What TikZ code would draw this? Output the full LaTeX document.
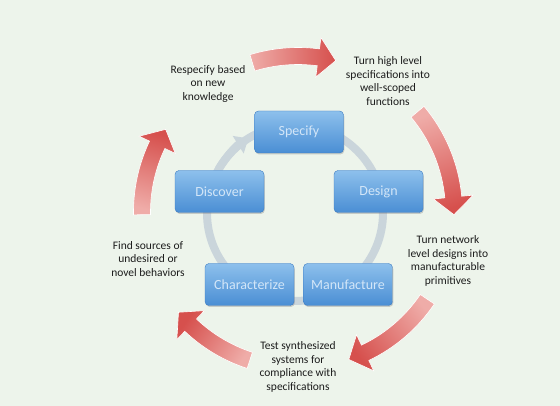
\documentclass[tikz,border=0pt]{standalone}
\usepackage{fontspec}
\setmainfont{Carlito}
\usetikzlibrary{arrows.meta,shadows}

\definecolor{bgmint}{HTML}{EDF4EB}
\definecolor{ringgray}{HTML}{CAD5DB}
\definecolor{tailpink}{HTML}{EFACA8}
\definecolor{headred}{HTML}{D6504D}
\definecolor{boxtop}{HTML}{8DC0EC}
\definecolor{boxbot}{HTML}{4A8ED4}
\definecolor{boxline}{HTML}{3D7CC2}
\definecolor{boxtext}{HTML}{D3E6F8}
\definecolor{labeltext}{HTML}{1C1C1C}

% one red block arrow on the outer circle: start angle, end angle, shading angle
\newcommand{\redarrow}[3]{%
  \pgfmathsetmacro{\headbase}{#2+6.5}
  \shadedraw[draw=white,line width=0.6pt,top color=tailpink,bottom color=headred,shading angle=#3]
    (#1:164.5) arc[start angle=#1,end angle=\headbase,radius=164.5]
    -- (\headbase:176) -- (#2:156) -- (\headbase:136)
    -- (\headbase:147.5) arc[start angle=\headbase,end angle=#1,radius=147.5] -- cycle;
}

\tikzset{
  stage/.style={rounded corners=4pt,minimum width=89pt,minimum height=42pt,
    draw=boxline,top color=boxtop,bottom color=boxbot,text=boxtext,
    font=\fontsize{14}{16}\selectfont,
    drop shadow={opacity=0.35,shadow xshift=0.8pt,shadow yshift=-1.5pt}},
  note/.style={align=center,text=labeltext,font=\fontsize{11.5}{13.7}\selectfont},
  ring/.style={draw=ringgray,line width=8pt}
}

\begin{document}
\begin{tikzpicture}[x=1pt,y=1pt]

\fill[bgmint] (0,0) rectangle (560,406); %background

\coordinate (hub) at (295,193);
\draw[ring] (hub) circle (88); %grey cycle
\draw[ring,-{Triangle[width=20pt,length=12pt]}] (hub) ++(150:88) arc[start angle=150,end angle=122,radius=88];

\begin{scope}[shift={(298,194)}] %red arrows
\redarrow{107}{76}{91}
\redarrow{40}{-1}{20}
\redarrow{-34}{-71}{-52}
\redarrow{-108}{-140}{-124}
\redarrow{181}{148}{165}
\end{scope}

\node[stage] (specify) at (299,274) {Specify};
\node[stage] (design) at (378.5,214.5) {Design};
\node[stage] (discover) at (219.5,214.5) {Discover};
\node[stage] (characterize) at (249.5,121.5) {Characterize};
\node[stage] (manufacture) at (348,121.5) {Manufacture};

\node[note] (respecify) at (208,322) {Respecify based\\on new\\knowledge};
\node[note] (highlevel) at (388,325) {Turn high level\\specifications into\\well-scoped\\functions};
\node[note] (network) at (448,145) {Turn network\\level designs into\\manufacturable\\primitives};
\node[note] (sources) at (148,147) {Find sources of\\undesired or\\novel behaviors};
\node[note] (synth) at (298,39) {Test synthesized\\systems for\\compliance with\\specifications};

\end{tikzpicture}
\end{document}
